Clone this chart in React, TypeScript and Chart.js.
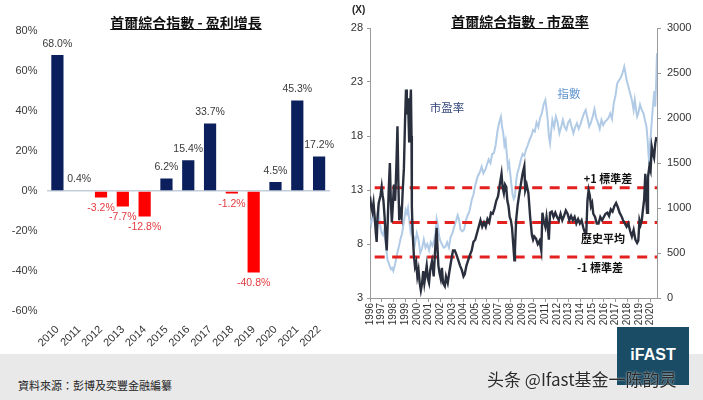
import React, { useEffect, useRef } from 'react';
import { Chart, registerables } from 'chart.js';

Chart.register(...registerables);

// ---------- Left chart data: earnings growth ----------
const growthYears = ['2010', '2011', '2012', '2013', '2014', '2015', '2016', '2017', '2018', '2019', '2020', '2021', '2022'];
const growthValues = [68.0, 0.4, -3.2, -7.7, -12.8, 6.2, 15.4, 33.7, -1.2, -40.8, 4.5, 45.3, 17.2];

// ---------- Right chart data: PE ratio (left axis) and index (right axis) ----------
const peYears = [
  1996.0, 1996.1, 1996.2, 1996.3, 1996.4, 1996.5, 1996.57, 1996.65, 1996.75, 1996.9,
  1997.0, 1997.08, 1997.15, 1997.25, 1997.35, 1997.43, 1997.5, 1997.6, 1997.7, 1997.78,
  1997.87, 1997.95, 1998.05, 1998.15, 1998.25, 1998.35, 1998.42, 1998.5, 1998.6, 1998.7,
  1998.8, 1998.9, 1999.0, 1999.08, 1999.15, 1999.25, 1999.35, 1999.42, 1999.5, 1999.55,
  1999.58, 1999.65, 1999.75, 1999.85, 1999.95, 2000.05, 2000.15, 2000.25, 2000.35, 2000.45,
  2000.55, 2000.65, 2000.75, 2000.85, 2000.95, 2001.05, 2001.15, 2001.3, 2001.45, 2001.6,
  2001.7, 2001.78, 2001.85, 2001.95, 2002.05, 2002.15, 2002.25, 2002.4, 2002.5, 2002.65,
  2002.8, 2002.95, 2003.1, 2003.25, 2003.4, 2003.55, 2003.7, 2003.85, 2004.0, 2004.1,
  2004.25, 2004.4, 2004.55, 2004.7, 2004.85, 2005.0, 2005.15, 2005.3, 2005.45, 2005.6,
  2005.75, 2005.9, 2006.05, 2006.2, 2006.35, 2006.5, 2006.65, 2006.8, 2006.95, 2007.1,
  2007.25, 2007.35, 2007.45, 2007.55, 2007.65, 2007.75, 2007.85, 2007.95, 2008.05, 2008.15,
  2008.25, 2008.35, 2008.4, 2008.5, 2008.62, 2008.75, 2008.9, 2009.05, 2009.2, 2009.28,
  2009.4, 2009.55, 2009.7, 2009.85, 2009.95, 2010.05, 2010.2, 2010.35, 2010.5, 2010.65,
  2010.75, 2010.85, 2011.0, 2011.1, 2011.2, 2011.3, 2011.4, 2011.55, 2011.7, 2011.85,
  2012.0, 2012.15, 2012.3, 2012.45, 2012.6, 2012.75, 2012.9, 2013.05, 2013.2, 2013.35,
  2013.5, 2013.65, 2013.8, 2013.95, 2014.1, 2014.25, 2014.4, 2014.5, 2014.6, 2014.7,
  2014.8, 2014.9, 2015.0, 2015.1, 2015.25, 2015.4, 2015.55, 2015.7, 2015.85, 2016.0,
  2016.15, 2016.3, 2016.45, 2016.6, 2016.75, 2016.9, 2017.05, 2017.2, 2017.35, 2017.5,
  2017.65, 2017.8, 2017.95, 2018.1, 2018.25, 2018.4, 2018.55, 2018.7, 2018.85, 2018.95,
  2019.05, 2019.15, 2019.25, 2019.35, 2019.45, 2019.55, 2019.62, 2019.7, 2019.78, 2019.9,
  2020.0, 2020.1, 2020.2, 2020.3, 2020.4, 2020.5,
];
const peValues = [
  12.4, 11.5, 11.0, 11.8, 10.5, 9.0, 8.2, 10.5, 11.8, 12.5,
  13.3, 12.5, 12.0, 10.5, 8.5, 7.4, 9.5, 13.0, 15.5, 12.0,
  10.0, 11.5, 13.5, 12.0, 15.0, 18.9, 14.0, 10.2, 11.0, 10.5,
  13.0, 15.0, 19.5, 22.3, 20.0, 21.5, 17.5, 20.5, 22.3, 18.0,
  11.5, 9.0, 7.0, 5.9, 6.3, 5.0, 5.6, 4.4, 3.7, 4.3,
  5.5, 4.4, 5.2, 6.0, 4.8, 4.4, 5.6, 6.4, 5.0, 8.0,
  9.5, 7.5, 6.0, 5.3, 4.8, 5.8, 4.4, 4.1, 5.0, 4.4,
  5.5, 6.5, 7.4, 7.4, 7.0, 6.5, 6.0, 5.6, 5.0, 5.2,
  6.0, 6.5, 7.0, 7.4, 8.2, 8.4, 9.0, 9.6, 10.2, 9.6,
  10.0, 9.6, 10.3, 10.0, 10.9, 10.8, 11.3, 12.0, 12.4, 13.5,
  14.5, 13.2, 12.7, 13.5, 13.3, 12.0, 11.5, 10.5, 10.2, 9.5,
  8.0, 6.5, 7.5, 10.2, 11.5, 12.5, 13.5, 14.5, 15.2, 13.0,
  13.5, 12.7, 10.5, 8.8, 8.4, 8.7, 8.5, 8.0, 8.3, 7.4,
  10.9, 10.2, 9.6, 10.5, 9.6, 8.4, 10.9, 11.0, 10.5, 10.9,
  10.5, 10.2, 10.8, 10.2, 10.6, 11.1, 10.8, 10.2, 10.6, 10.2,
  10.5, 9.9, 10.3, 9.9, 10.2, 9.5, 9.0, 9.0, 12.0, 13.0,
  12.5, 11.5, 11.8, 10.8, 10.5, 9.9, 9.9, 10.5, 10.2, 10.5,
  10.8, 10.9, 10.6, 11.2, 11.0, 11.5, 11.8, 11.4, 10.9, 10.6,
  10.2, 9.9, 9.6, 9.9, 9.2, 8.7, 9.3, 8.4, 8.1, 8.3,
  10.2, 9.8, 10.2, 11.2, 12.1, 14.5, 12.5, 10.9, 14.2, 15.2,
  14.8, 17.0, 16.4, 16.0, 17.3, 17.9,
];

const idxYears = [
  1996.0, 1996.1, 1996.2, 1996.3, 1996.4, 1996.5, 1996.6, 1996.7, 1996.8, 1996.9,
  1997.0, 1997.1, 1997.2, 1997.35, 1997.5, 1997.6, 1997.7, 1997.8, 1997.9, 1998.0,
  1998.15, 1998.3, 1998.45, 1998.6, 1998.75, 1998.9, 1999.05, 1999.15, 1999.25, 1999.35,
  1999.45, 1999.55, 1999.65, 1999.75, 1999.85, 2000.0, 2000.15, 2000.3, 2000.45, 2000.6,
  2000.75, 2000.9, 2001.05, 2001.2, 2001.35, 2001.5, 2001.6, 2001.7, 2001.8, 2001.9,
  2002.0, 2002.15, 2002.3, 2002.45, 2002.6, 2002.75, 2002.9, 2003.05, 2003.2, 2003.35,
  2003.5, 2003.6, 2003.75, 2003.9, 2004.05, 2004.2, 2004.35, 2004.5, 2004.7, 2004.85,
  2005.0, 2005.2, 2005.4, 2005.55, 2005.7, 2005.85, 2006.0, 2006.15, 2006.3, 2006.45,
  2006.6, 2006.75, 2006.9, 2007.05, 2007.2, 2007.3, 2007.4, 2007.5, 2007.6, 2007.7,
  2007.8, 2007.9, 2008.0, 2008.1, 2008.2, 2008.3, 2008.4, 2008.5, 2008.6, 2008.75,
  2008.9, 2009.05, 2009.2, 2009.35, 2009.5, 2009.65, 2009.8, 2009.95, 2010.1, 2010.25,
  2010.4, 2010.55, 2010.7, 2010.85, 2011.0, 2011.1, 2011.2, 2011.3, 2011.4, 2011.5,
  2011.6, 2011.75, 2011.9, 2012.05, 2012.2, 2012.35, 2012.5, 2012.65, 2012.8, 2012.95,
  2013.1, 2013.25, 2013.4, 2013.55, 2013.7, 2013.85, 2014.0, 2014.15, 2014.3, 2014.45,
  2014.6, 2014.75, 2014.9, 2015.05, 2015.2, 2015.35, 2015.5, 2015.65, 2015.8, 2015.95,
  2016.1, 2016.25, 2016.4, 2016.55, 2016.7, 2016.85, 2017.0, 2017.15, 2017.3, 2017.45,
  2017.6, 2017.75, 2017.85, 2017.95, 2018.1, 2018.25, 2018.4, 2018.55, 2018.65, 2018.75,
  2018.85, 2018.95, 2019.1, 2019.25, 2019.4, 2019.55, 2019.65, 2019.75, 2019.82, 2019.88,
  2019.95, 2020.05, 2020.15, 2020.25, 2020.32, 2020.4, 2020.48, 2020.55,
];
const idxValues = [
  870, 820, 900, 950, 860, 800, 880, 1000, 880, 780,
  720, 700, 750, 600, 420, 390, 350, 320, 333, 300,
  380, 480, 560, 650, 720, 850, 980, 940, 1000, 880,
  760, 860, 700, 680, 600, 720, 650, 500, 550, 650,
  560, 600, 530, 620, 580, 650, 720, 880, 820, 700,
  640, 600, 560, 570, 620, 560, 680, 720, 790, 850,
  920, 880, 760, 740, 760, 860, 920, 960, 1089, 1150,
  1250, 1348, 1400, 1460, 1385, 1420, 1480, 1540, 1500, 1600,
  1610, 1700, 1850, 1950, 2015, 1900, 1830, 1700, 1750, 1600,
  1450, 1500, 1380, 1250, 1150, 1100, 1130, 1300, 1385, 1450,
  1533, 1600, 1580, 1650, 1700, 1756, 1800, 1867, 1850, 1950,
  1900, 2000, 2052, 2150, 2200, 2100, 1978, 1800, 1720, 1850,
  1978, 1900, 2015, 1950, 1830, 1900, 1978, 1900, 1867, 1950,
  1978, 1900, 1830, 1900, 1941, 1880, 1930, 1990, 2050, 2089,
  2000, 1904, 1950, 2015, 2100, 2000, 1950, 1880, 1978, 1920,
  1960, 1978, 2000, 2050, 1990, 2163, 2250, 2385, 2420, 2450,
  2500, 2570, 2500, 2422, 2350, 2274, 2200, 2089, 2200, 2100,
  2015, 2050, 2150, 2089, 2050, 1960, 1904, 1750, 1600, 1500,
  1700, 1867, 2050, 2200, 2300, 2125, 2400, 2720,
];

const peBandValues = [13.2, 10.0, 6.8]; // +1 s.d., mean, -1 s.d.
const bandStartYear = 1996.4;
const bandEndYear = 2020.55;

const FONT = "'Liberation Sans', Arial, sans-serif";
const CJK = "'Noto Sans CJK TC', 'Noto Sans CJK SC', sans-serif";

const barLabelPlugin = {
  id: 'barLabels',
  afterDatasetsDraw(chart: any) {
    const ctx = chart.ctx;
    const meta = chart.getDatasetMeta(0);
    ctx.save();
    ctx.font = `10.5px ${FONT}`;
    ctx.textAlign = 'center';
    ctx.textBaseline = 'middle';
    meta.data.forEach((el: any, i: number) => {
      const v = growthValues[i];
      const txt = v.toFixed(1) + '%';
      if (v >= 0) {
        ctx.fillStyle = '#3a3a3a';
        ctx.fillText(txt, el.x, el.y - 11);
      } else {
        ctx.fillStyle = '#e23a3e';
        ctx.fillText(txt, el.x, el.y + 11);
      }
    });
    ctx.restore();
  },
};

function GrowthChart() {
  const ref = useRef<HTMLCanvasElement>(null);
  useEffect(() => {
    if (!ref.current) return;
    const chart = new Chart(ref.current, {
      type: 'bar',
      data: {
        labels: growthYears,
        datasets: [
          {
            data: growthValues,
            backgroundColor: growthValues.map((v) => (v >= 0 ? '#0b1f5c' : '#ff0000')),
            borderWidth: 0,
            barPercentage: 0.56,
            categoryPercentage: 1,
          },
        ],
      },
      options: {
        responsive: false,
        animation: false,
        layout: { padding: { top: 31, right: 15, left: 0, bottom: 0 } },
        plugins: { legend: { display: false }, tooltip: { enabled: false }, title: { display: false } },
        scales: {
          x: {
            offset: true,
            grid: { display: false },
            border: { display: false },
            ticks: {
              autoSkip: false,
              minRotation: 45,
              maxRotation: 45,
              padding: 4,
              color: '#333',
              font: { family: FONT, size: 11 },
            },
            afterFit: (s: any) => {
              s.height = 44;
            },
          },
          y: {
            min: -60,
            max: 80,
            ticks: {
              stepSize: 20,
              padding: 9,
              color: '#3a3a3a',
              font: { family: FONT, size: 11 },
              callback: (v: any) => `${v}%`,
            },
            border: { display: false },
            grid: {
              drawTicks: false,
              color: (c: any) => (c.tick && c.tick.value === 0 ? '#c3cedb' : 'rgba(0,0,0,0)'),
              lineWidth: 1.5,
            },
            afterFit: (s: any) => {
              s.width = 46.5;
            },
          },
        },
      },
      plugins: [barLabelPlugin],
    });
    return () => chart.destroy();
  }, []);
  return <canvas ref={ref} width={345} height={355} style={{ width: 345, height: 355, display: 'block' }} />;
}

function PeChart() {
  const ref = useRef<HTMLCanvasElement>(null);
  useEffect(() => {
    if (!ref.current) return;
    const bandSets = peBandValues.map((b) => ({
      type: 'line' as const,
      data: [
        { x: bandStartYear, y: b },
        { x: bandEndYear, y: b },
      ],
      borderColor: '#e3211f',
      borderWidth: 3,
      borderDash: [10, 7.5],
      pointRadius: 0,
      yAxisID: 'y',
      order: 2,
    }));
    const chart = new Chart(ref.current, {
      type: 'line',
      data: {
        datasets: [
          {
            data: peYears.map((x, i) => ({ x, y: peValues[i] })),
            borderColor: '#2a2f3e',
            borderWidth: 2.4,
            pointRadius: 0,
            tension: 0,
            yAxisID: 'y',
            order: 1,
          },
          ...bandSets,
          {
            data: idxYears.map((x, i) => ({ x, y: idxValues[i] })),
            borderColor: '#b1cbe6',
            borderWidth: 2,
            pointRadius: 0,
            tension: 0,
            yAxisID: 'y1',
            order: 3,
          },
        ],
      },
      options: {
        responsive: false,
        animation: false,
        layout: { padding: { top: 28, right: 0, left: 0, bottom: 0 } },
        plugins: { legend: { display: false }, tooltip: { enabled: false }, title: { display: false } },
        scales: {
          x: {
            type: 'linear',
            min: 1996,
            max: bandEndYear,
            grid: { drawOnChartArea: false, drawTicks: true, tickLength: 4, color: '#9a9a9a' },
            border: { display: true, color: '#9a9a9a', width: 1 },
            ticks: {
              stepSize: 1,
              autoSkip: false,
              includeBounds: false,
              minRotation: 90,
              maxRotation: 90,
              padding: 1,
              color: '#333',
              font: { family: FONT, size: 10 },
              callback: (v: any) => (Number.isInteger(v) ? String(v) : ''),
            },
            afterFit: (s: any) => {
              s.height = 37;
            },
          },
          y: {
            position: 'left',
            min: 3,
            max: 28,
            grid: { drawOnChartArea: false, drawTicks: true, tickLength: 3, color: '#9a9a9a' },
            border: { display: true, color: '#9a9a9a', width: 1 },
            ticks: {
              stepSize: 5,
              padding: 4,
              color: '#333',
              font: { family: FONT, size: 11 },
              callback: (v: any) => String(v),
            },
            afterFit: (s: any) => {
              s.width = 25;
            },
          },
          y1: {
            position: 'right',
            min: 0,
            max: 3000,
            grid: { drawOnChartArea: false, drawTicks: true, tickLength: 4, color: '#9a9a9a' },
            border: { display: true, color: '#9a9a9a', width: 1 },
            ticks: {
              stepSize: 500,
              padding: 6,
              color: '#333',
              font: { family: FONT, size: 11 },
              callback: (v: any) => String(v),
            },
            afterFit: (s: any) => {
              s.width = 46;
            },
          },
        },
      },
    });
    return () => chart.destroy();
  }, []);
  return <canvas ref={ref} width={358} height={335} style={{ width: 358, height: 335, display: 'block' }} />;
}

const abs = (o: React.CSSProperties): React.CSSProperties => ({ position: 'absolute', ...o });

export default function App() {
  return (
    <div
      style={{
        position: 'absolute',
        left: 0,
        top: 0,
        width: 703,
        height: 400,
        background: '#ffffff',
        overflow: 'hidden',
        fontFamily: FONT,
      }}
    >
      <div style={abs({ left: 0, top: 354, width: 703, height: 46, background: '#e9e9e9' })} />
      <div style={abs({ left: 0, top: 0 })}>
        <GrowthChart />
      </div>
      <div style={abs({ left: 345, top: 0 })}>
        <PeChart />
      </div>

      {/* titles */}
      <div
        style={abs({
          left: 86,
          top: 12,
          width: 200,
          textAlign: 'center',
          fontFamily: CJK,
          fontWeight: 700,
          fontSize: 14,
          lineHeight: '20px',
          textDecoration: 'underline',
          color: '#111',
          whiteSpace: 'nowrap',
        })}
      >
        首爾綜合指數 - 盈利增長
      </div>
      <div
        style={abs({
          left: 420,
          top: 11,
          width: 200,
          textAlign: 'center',
          fontFamily: CJK,
          fontWeight: 700,
          fontSize: 14,
          lineHeight: '20px',
          textDecoration: 'underline',
          color: '#111',
          whiteSpace: 'nowrap',
        })}
      >
        首爾綜合指數 - 市盈率
      </div>

      {/* right chart annotations */}
      <div style={abs({ left: 352, top: 3, fontSize: 10, fontWeight: 700, color: '#222', lineHeight: '14px' })}>(X)</div>
      <div
        style={abs({ left: 447, top: 107, transform: 'translate(-50%,-50%)', fontFamily: CJK, fontSize: 11.5, color: '#34457a', whiteSpace: 'nowrap' })}
      >
        市盈率
      </div>
      <div
        style={abs({ left: 569, top: 93, transform: 'translate(-50%,-50%)', fontFamily: CJK, fontSize: 11.5, color: '#5f95cf', whiteSpace: 'nowrap' })}
      >
        指數
      </div>
      <div
        style={abs({ left: 608, top: 178, transform: 'translate(-50%,-50%)', fontFamily: CJK, fontSize: 11, fontWeight: 700, color: '#111', whiteSpace: 'nowrap' })}
      >
        +1 標準差
      </div>
      <div
        style={abs({ left: 603, top: 238, transform: 'translate(-50%,-50%)', fontFamily: CJK, fontSize: 11, fontWeight: 700, color: '#111', whiteSpace: 'nowrap' })}
      >
        歷史平均
      </div>
      <div
        style={abs({ left: 600, top: 267, transform: 'translate(-50%,-50%)', fontFamily: CJK, fontSize: 11, fontWeight: 700, color: '#111', whiteSpace: 'nowrap' })}
      >
        -1 標準差
      </div>

      {/* footer */}
      <div style={abs({ left: 18, top: 385, transform: 'translateY(-50%)', fontFamily: CJK, fontSize: 11, color: '#222', whiteSpace: 'nowrap' })}>
        資料來源：彭博及奕豐金融編纂
      </div>
      <div style={abs({ left: 617, top: 327, width: 72, height: 58, background: '#1a4c66' })} />
      <div
        style={abs({ left: 617, top: 345, width: 72, textAlign: 'center', color: '#ffffff', fontWeight: 700, fontSize: 16, lineHeight: '20px' })}
      >
        iFAST
      </div>
      <div
        style={abs({
          left: 487,
          top: 378,
          transform: 'translateY(-50%)',
          fontFamily: "'Noto Sans CJK SC', sans-serif",
          fontSize: 17,
          color: '#2b2b2b',
          whiteSpace: 'nowrap',
          textShadow: '0 0 2px rgba(255,255,255,0.9)',
        })}
      >
        头条 @Ifast基金一陈韵灵
      </div>
    </div>
  );
}
